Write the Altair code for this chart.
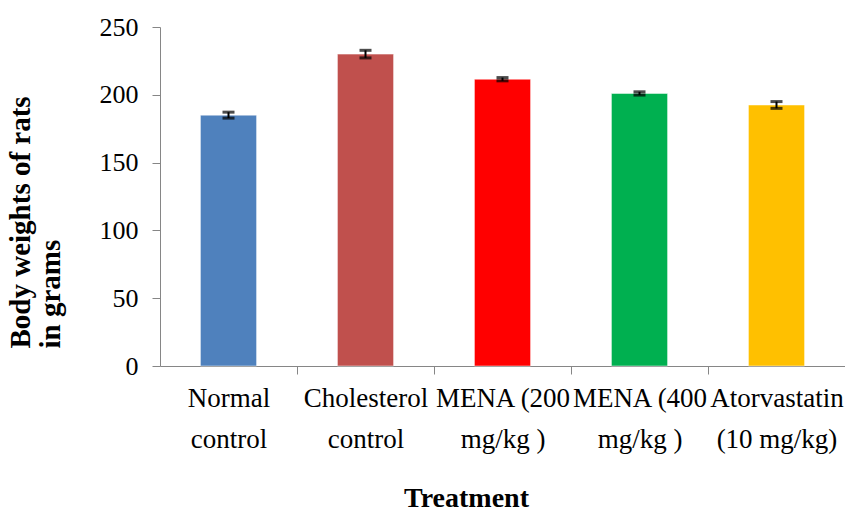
import altair as alt
import pandas as pd

categories = ["Normal|control", "Cholesterol|control", "MENA (200|mg/kg )", "MENA (400|mg/kg )", "Atorvastatin|(10 mg/kg)"]
values = [185, 230, 211.5, 201, 192.5]
errors = [2.2, 2.8, 1.2, 1.2, 2.5]
colors = ["#4F81BD", "#C0504D", "#FF0000", "#00B050", "#FFC000"]

df = pd.DataFrame({"cat": categories, "val": values, "err": errors, "color": colors})
df["lo"] = df["val"] - df["err"]
df["hi"] = df["val"] + df["err"]

FONT = "Liberation Serif"
W, H = 685, 339
band = W / len(categories)

x = alt.X("cat:N", sort=categories, scale=alt.Scale(paddingInner=0.59, paddingOuter=0.295),
          axis=alt.Axis(title="Treatment", labelExpr="split(datum.label, '|')",
                        labelAngle=0, labelFontSize=27, labelFont=FONT, labelColor="black",
                        labelLineHeight=41, labelPadding=11, labelBaseline="top",
                        tickOffset=band / 2, labelOffset=-band / 2, tickSize=8, tickColor="#868686",
                        domainColor="#868686", titleFont=FONT, titleFontSize=28, titleFontWeight="bold",
                        titleColor="black", titleX=306, titleY=140, titleAlign="center",
                        titleBaseline="alphabetic"))

y = alt.Y("val:Q", scale=alt.Scale(domain=[0, 250], nice=False),
          axis=alt.Axis(values=[0, 50, 100, 150, 200, 250], title=["Body weights of rats", "in grams"],
                        grid=False, labelFontSize=26, labelFont=FONT, labelColor="black", labelPadding=14,
                        tickSize=8, tickColor="#868686", domainColor="#868686",
                        titleFont=FONT, titleFontSize=29, titleFontWeight="bold", titleColor="black",
                        titleX=-131, titleY=321, titleAlign="left", titleAngle=270, titleLineHeight=30,
                        titleBaseline="alphabetic"))

bars = alt.Chart(df).mark_bar(stroke="white", strokeWidth=0.5).encode(
    x=x, y=y, color=alt.Color("color:N", scale=None))

rules = alt.Chart(df).mark_rule(color="black", strokeWidth=2).encode(
    x=alt.X("cat:N", sort=categories), y="lo:Q", y2="hi:Q")
caps_lo = alt.Chart(df).mark_tick(color="black", thickness=3, size=12).encode(
    x=alt.X("cat:N", sort=categories), y="lo:Q")
caps_hi = alt.Chart(df).mark_tick(color="black", thickness=3, size=12).encode(
    x=alt.X("cat:N", sort=categories), y="hi:Q")

chart = alt.layer(bars, rules, caps_lo, caps_hi).properties(
    width=W, height=H,
    autosize=alt.AutoSizeParams(type="none"),
    padding={"left": 160, "top": 27, "right": 0, "bottom": 147},
    background="white",
).configure_view(stroke=None)

chart.save("out.html", embed_options={"renderer": "svg", "actions": False})
